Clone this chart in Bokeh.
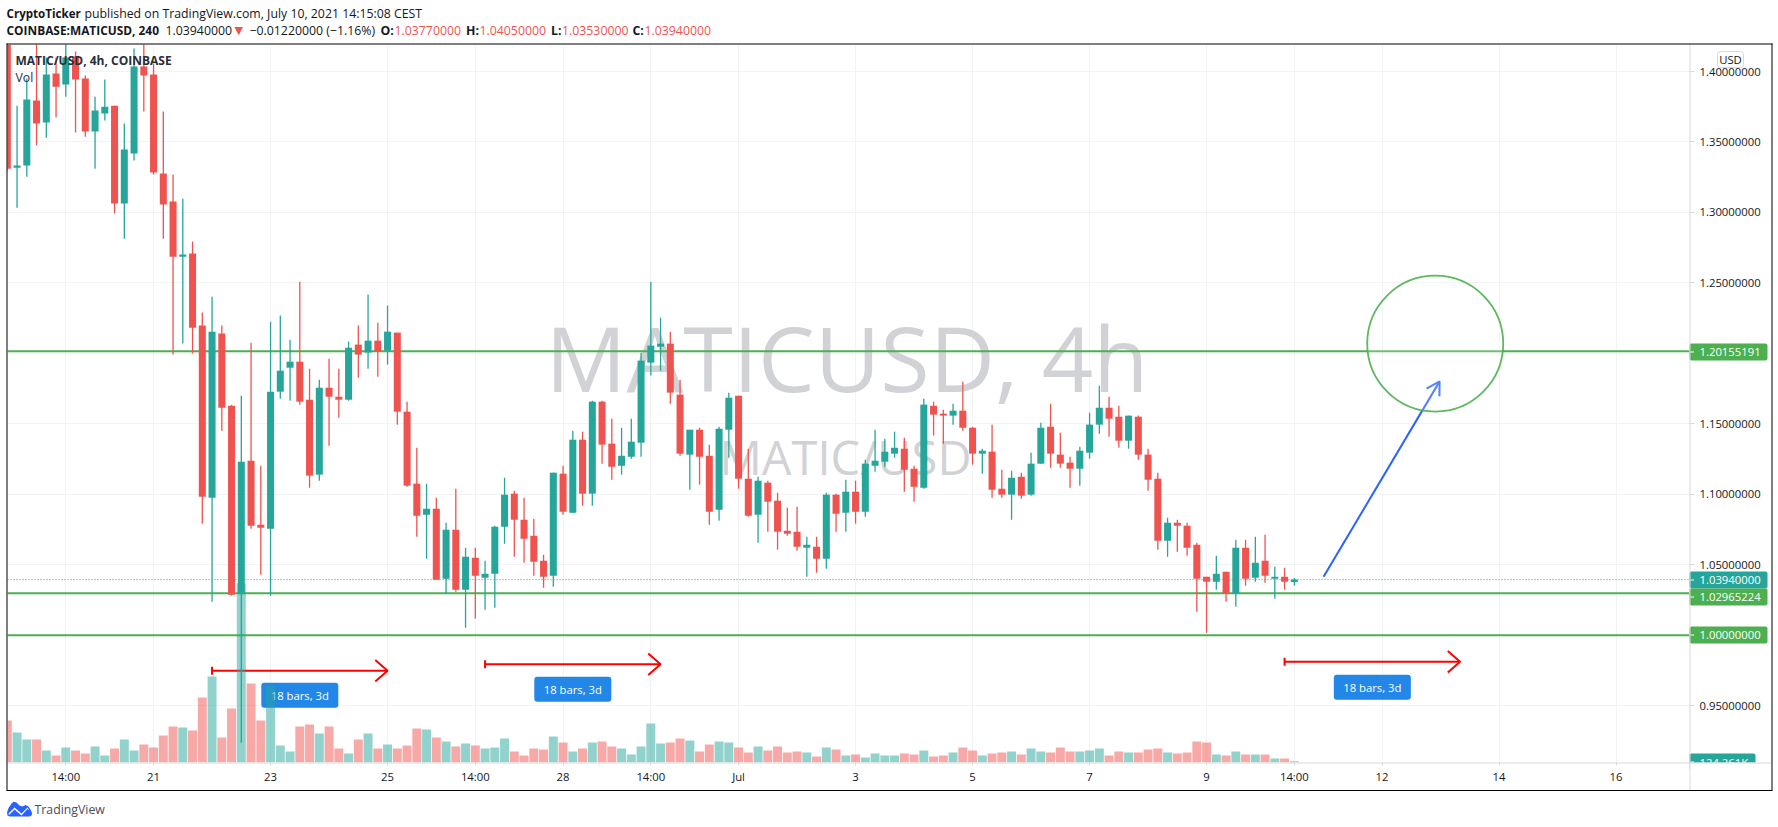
from bokeh.plotting import figure
from bokeh.models import Range1d, FixedTicker, Label, BoxAnnotation, Span, PolyAnnotation, NumeralTickFormatter
from bokeh.embed import file_html
from bokeh.resources import INLINE

opens = [1.44,1.3318,1.3333,1.3794,1.3638,1.3986,1.3908,1.4106,1.3950,1.3574,
 1.3702,1.3758,1.3063,1.3418,1.4035,1.3979,1.3276,1.3077,1.2686,1.2708,
 1.2197,1.0975,1.2140,1.1628,1.0294,1.1238,1.0784,1.0755,1.1728,1.1898,
 1.1941,1.1671,1.1139,1.1756,1.1692,1.1671,1.2062,1.2005,1.2090,1.2019,
 1.2147,1.1586,1.1075,1.0855,1.0897,1.0400,1.0748,1.0322,1.0549,1.0407,
 1.0436,1.0769,1.1004,1.0819,1.0705,1.0528,1.0422,1.1146,1.0869,1.1387,
 1.1004,1.1657,1.1359,1.1202,1.1266,1.1366,1.1934,1.2047,1.2069,1.1707,
 1.1281,1.1458,1.1273,1.0890,1.1458,1.1699,1.1110,1.0855,1.1082,1.0954,
 1.0741,1.0734,1.0620,1.0627,1.0542,1.0997,1.0869,1.1018,1.0876,1.1202,
 1.1231,1.1288,1.1323,1.1181,1.1046,1.1628,1.1572,1.1558,1.1593,1.1472,
 1.1288,1.1302,1.1039,1.0997,1.1124,1.0997,1.1217,1.1479,1.1281,1.1224,
 1.1181,1.1295,1.1494,1.1614,1.1550,1.1380,1.1550,1.1281,1.1110,1.0670,
 1.0798,1.0777,1.0642,1.0414,1.0379,1.0450,1.0294,1.0620,1.0407,1.0528,
 1.0400,1.0414,1.0377]
highs = [1.45,1.3758,1.3950,1.43,1.4099,1.4099,1.43,1.4142,1.3972,1.3822,
 1.3943,1.3758,1.3631,1.4163,1.43,1.4057,1.3716,1.3269,1.3098,1.2793,
 1.2289,1.2402,1.2197,1.1636,1.1699,1.2076,1.1202,1.2225,1.2268,1.2097,
 1.2509,1.1891,1.1813,1.1962,1.1891,1.2083,1.2197,1.2417,1.2218,1.2339,
 1.2147,1.1657,1.1330,1.1075,1.0975,1.0798,1.1039,1.0620,1.0620,1.0528,
 1.0776,1.1117,1.1025,1.0975,1.0826,1.0571,1.1153,1.1202,1.1451,1.1444,
 1.1664,1.1664,1.1536,1.1472,1.1536,1.2005,1.2509,1.2253,1.2154,1.1813,
 1.1458,1.1472,1.1352,1.1479,1.1721,1.1699,1.1323,1.1124,1.1096,1.1011,
 1.0904,1.0911,1.0698,1.0698,1.1011,1.1004,1.1103,1.1096,1.1245,1.1458,
 1.1394,1.1444,1.1401,1.1202,1.1678,1.1657,1.1600,1.1643,1.1799,1.1479,
 1.1323,1.1494,1.1174,1.1167,1.1153,1.1295,1.1508,1.1643,1.1437,1.1266,
 1.1337,1.1579,1.1770,1.1692,1.1628,1.1558,1.1558,1.1323,1.1153,1.0833,
 1.0819,1.0798,1.0656,1.0414,1.0564,1.0450,1.0677,1.0677,1.0698,1.0712,
 1.0485,1.0478,1.0405]
lows = [1.329,1.3034,1.3254,1.3475,1.3531,1.3673,1.3822,1.3567,1.3538,1.3311,
 1.3652,1.2992,1.2814,1.3368,1.3716,1.3269,1.2814,1.1991,1.2069,1.1998,
 1.0791,1.0237,1.1451,1.0280,0.9236,1.0755,1.0429,1.0280,1.1678,1.1664,
 1.1636,1.1046,1.1096,1.1345,1.1543,1.1664,1.1827,1.1891,1.1834,1.1920,
 1.1494,1.1053,1.0698,1.0542,1.0393,1.0294,1.0308,1.0052,1.0116,1.0180,
 1.0194,1.0649,1.0556,1.0514,1.0422,1.0336,1.0343,1.0855,1.0869,1.0918,
 1.0918,1.1217,1.1103,1.1139,1.1252,1.1266,1.1842,1.1877,1.1643,1.1273,
 1.1032,1.1068,1.0784,1.0812,1.1259,1.1039,1.0840,1.0656,1.0734,1.0606,
 1.0705,1.0599,1.0414,1.0443,1.0471,1.0734,1.0734,1.0791,1.0840,1.1160,
 1.1195,1.1259,1.1018,1.0947,1.1039,1.1416,1.1359,1.1494,1.1451,1.1210,
 1.1146,1.0975,1.0975,1.0819,1.0968,1.0990,1.1217,1.1188,1.1188,1.1046,
 1.1060,1.1252,1.1430,1.1408,1.1330,1.1323,1.1245,1.1025,1.0606,1.0556,
 1.0592,1.0564,1.0166,1.0017,1.0322,1.0237,1.0202,1.0351,1.0379,1.0372,
 1.0258,1.0322,1.0353]
closes = [1.3311,1.3333,1.3801,1.3631,1.3979,1.3893,1.4099,1.3943,1.3574,1.3723,
 1.3751,1.3063,1.3446,1.4035,1.3972,1.3283,1.3056,1.2686,1.2701,1.2182,
 1.0982,1.2154,1.1614,1.0287,1.1231,1.0777,1.0762,1.1728,1.1877,1.1941,
 1.1657,1.1132,1.1756,1.1692,1.1671,1.2040,1.1991,1.2090,1.2012,1.2154,
 1.1586,1.1061,1.0848,1.0897,1.0393,1.0748,1.0322,1.0556,1.0422,1.0436,
 1.0769,1.0997,1.0819,1.0684,1.0521,1.0414,1.1153,1.0876,1.1387,1.1004,
 1.1657,1.1352,1.1195,1.1273,1.1373,1.1948,1.2055,1.2069,1.1721,1.1288,
 1.1458,1.1266,1.0876,1.1465,1.1685,1.1110,1.0848,1.1096,1.0947,1.0734,
 1.0720,1.0627,1.0642,1.0542,1.0997,1.0862,1.1018,1.0876,1.1217,1.1238,
 1.1302,1.1330,1.1174,1.1053,1.1636,1.1565,1.1558,1.1593,1.1472,1.1288,
 1.1309,1.1032,1.0997,1.1117,1.0990,1.1217,1.1472,1.1288,1.1217,1.1181,
 1.1309,1.1494,1.1614,1.1536,1.1380,1.1558,1.1281,1.1103,1.0670,1.0798,
 1.0777,1.0620,1.0400,1.0379,1.0436,1.0294,1.0620,1.0400,1.0514,1.0422,
 1.0414,1.0379,1.0394]
volumes_m = [4.2,3.0,2.3,2.3,1.2,0.7,1.5,1.2,0.9,1.6,
 0.7,1.4,2.3,1.2,1.8,1.5,2.7,3.6,3.5,3.2,
 6.5,8.6,2.5,5.4,17.9,7.9,4.2,7.7,1.7,1.1,
 3.6,3.8,2.9,3.6,1.4,0.9,2.3,2.9,1.4,1.8,
 1.4,1.7,3.4,3.3,2.5,2.1,1.6,1.9,1.7,1.4,
 1.5,2.4,1.1,0.7,1.4,1.3,2.6,2.0,1.1,1.4,
 2.0,2.1,1.6,1.4,0.8,1.6,3.9,1.9,2.0,2.4,
 2.2,1.1,1.8,2.1,2.0,1.5,1.0,1.6,1.2,1.6,
 1.0,1.1,1.0,0.6,1.5,1.3,0.7,0.8,0.5,0.9,
 0.7,0.7,0.9,0.8,1.2,0.6,0.7,1.0,1.5,1.2,
 0.7,0.9,1.0,1.1,0.8,1.4,1.1,1.0,1.5,1.1,
 1.1,1.2,1.4,0.7,1.1,1.0,1.0,1.3,1.4,1.0,
 0.9,1.0,2.1,2.0,0.8,0.7,1.1,0.8,0.8,0.8,
 0.4,0.4,0.124]

time_ticks = [6,15,27,39,48,57,66,75,87,99,111,123,132,141,153,165]
time_labels = ["14:00","21","23","25","14:00","28","14:00","Jul","3","5","7","9","14:00","12","14","16"]
price_ticks = [1.40,1.35,1.30,1.25,1.20,1.15,1.10,1.05,1.00,0.95]
levels = [1.20155191,1.02965224,1.00000000]
last_price = 1.0394
measure_starts = [21,49,131]
measure_ends = [39,67,149]
measure_prices = [0.9747,0.9793,0.9811]
badge_tops = [0.9662,0.9705,0.9719]
badge_bottoms = [0.9484,0.9527,0.9541]
badge_text = ["18 bars, 3d"]*3
blue_start = (135,1.0414)
blue_end = (146.9,1.1801)
circle_center = (146.45,1.2069)

GREEN="#26a69a"; RED="#ef5350"; LINE="#4caf50"; BLUE="#2962ff"; BADGE="#2387e8"; INK="#131722"; AXIS="#d9d9d9"; GRID="#f2f3f5"
FONT="Open Sans"
W,H=1778,827
PXB=9.75; PXP=1409.0
AX=11.3; HD=12.3

p = figure(width=W,height=H,output_backend="svg",toolbar_location=None,
           x_range=Range1d(0.02,172.53),y_range=Range1d(0.9096,1.4192),
           y_axis_location="right",min_border_left=7,min_border_right=89,min_border_top=44,min_border_bottom=65,
           outline_line_color=None,background_fill_color="white",border_fill_color="white")
p.styles={"position":"absolute","left":"0px","top":"0px"}
p.extra_y_ranges={"vol":Range1d(0,71.8)}

p.xaxis.ticker=FixedTicker(ticks=time_ticks)
p.xaxis.major_label_overrides=dict(zip(time_ticks,time_labels))
p.yaxis.ticker=FixedTicker(ticks=price_ticks)
p.yaxis.formatter=NumeralTickFormatter(format="0.00000000")
for ax in (p.xaxis[0],p.yaxis[0]):
    ax.axis_line_color=None
    ax.major_tick_line_color=AXIS
    ax.major_tick_in=0
    ax.minor_tick_line_color=None
    ax.major_label_text_font=FONT
    ax.major_label_text_font_size=f"{AX}px"
    ax.major_label_text_color=INK
p.yaxis.major_tick_out=5
p.yaxis.major_label_standoff=5
p.xaxis.major_tick_out=3
p.xaxis.major_label_standoff=3
p.xgrid.ticker=FixedTicker(ticks=time_ticks)
p.ygrid.ticker=FixedTicker(ticks=price_ticks)
p.xgrid.grid_line_color=GRID
p.ygrid.grid_line_color=GRID

# overlay figure for everything that lies outside the plotting frame
q = figure(width=W,height=H,output_backend="svg",toolbar_location=None,
           x_range=Range1d(0,W),y_range=Range1d(H,0),x_axis_type=None,y_axis_type=None,
           min_border=0,min_border_left=0,min_border_right=0,min_border_top=0,min_border_bottom=0,
           outline_line_color=None,background_fill_color=None,border_fill_color=None)
q.styles={"position":"absolute","left":"0px","top":"0px","pointer-events":"none"}
q.xgrid.visible=False
q.ygrid.visible=False

def lab(text,x,y,size,color=INK,style="normal",align="left",level="annotation",font=FONT,fig=q):
    fig.add_layout(Label(x=x,y=y,x_units="canvas",y_units="canvas",text=text,text_font=font,
        text_font_size=f"{size}px",text_color=color,text_font_style=style,text_baseline="middle",
        text_align=align,level=level))
def box(l,t,r,b,color,level="annotation",radius=0,alpha=1.0,line=None):
    q.add_layout(BoxAnnotation(left=l,right=r,top=t,bottom=b,left_units="canvas",right_units="canvas",
        top_units="canvas",bottom_units="canvas",fill_color=color,fill_alpha=alpha,line_color=line,
        line_alpha=1.0,border_radius=radius,level=level,editable=False))

# watermarks
lab("MATICUSD, 4h",545,356,90,"#d1d2d6",level="underlay",fig=p)
lab("MATIC/USD",719,456,47,"#d1d2d6",level="underlay",fig=p)

# horizontal levels
for lv in levels:
    p.add_layout(Span(location=lv,dimension="width",line_color=LINE,line_width=2,level="underlay"))
p.add_layout(Span(location=last_price,dimension="width",line_color=GREEN,line_width=1,line_dash="1 2",level="underlay"))

# measure arrows
for s,e,y in zip(measure_starts,measure_ends,measure_prices):
    p.segment(x0=[s],x1=[e],y0=[y],y1=[y],line_color="#ff0000",line_width=2)
    p.segment(x0=[s],x1=[s],y0=[y-0.0028],y1=[y+0.0028],line_color="#ff0000",line_width=2)
    p.multi_line(xs=[[e-12.3/PXB,e,e-12.3/PXB]],ys=[[y+10.7/PXP,y,y-10.7/PXP]],line_color="#ff0000",line_width=2)

# badges
for s,e,t,b,txt in zip(measure_starts,measure_ends,badge_tops,badge_bottoms,badge_text):
    mid=(s+e)/2
    p.quad(left=[mid-3.95],right=[mid+3.95],top=[t],bottom=[b],fill_color=BADGE,line_color=None,border_radius=3)
    p.text(x=[mid],y=[(t+b)/2],text=[txt],text_color="white",text_font={"value":FONT},text_font_size=f"{AX}px",
           text_align="center",text_baseline="middle")

# volume
idx=list(range(len(closes)))
col=[GREEN if c>=o else RED for o,c in zip(opens,closes)]
p.vbar(x=idx,top=volumes_m,bottom=0,width=0.92,color=col,fill_alpha=0.5,line_alpha=0,y_range_name="vol")

# candles
p.segment(x0=idx,x1=idx,y0=lows,y1=highs,line_color=col,line_width=1.3)
p.vbar(x=idx,top=[max(o,c) for o,c in zip(opens,closes)],bottom=[min(o,c) for o,c in zip(opens,closes)],
       width=0.72,fill_color=col,line_color=None)

# blue arrow
bx0,by0=blue_start; bx1,by1=blue_end
p.segment(x0=[bx0],x1=[bx1],y0=[by0],y1=[by1],line_color=BLUE,line_width=2)
dx=(bx1-bx0)*PXB; dy=(by1-by0)*PXP; n=(dx*dx+dy*dy)**0.5; ux,uy=dx/n,dy/n
def pt(back,side):
    return bx1+(-ux*back-uy*side)/PXB, by1+(-uy*back+ux*side)/PXP
a=pt(13,7.5); c=pt(13,-7.5)
p.multi_line(xs=[[a[0],bx1,c[0]]],ys=[[a[1],by1,c[1]]],line_color=BLUE,line_width=2)

# target circle
p.ellipse(x=[circle_center[0]],y=[circle_center[1]],width=[136/PXB],height=[136/PXP],
          fill_color="white",fill_alpha=0.2,line_color=LINE,line_alpha=0.9,line_width=1.8)

# right-hand price tags
def tag(top,text,color,right=1767,bottom=None):
    b=bottom if bottom else top+17
    box(1689,top,right,b,color,radius=2)
    lab(text,1699,top+8.7,AX,"white")
    box(1690,top+8,1693.5,top+9,"white")
tag(343,"1.20155191",LINE)
tag(571,"1.03940000",GREEN)
tag(588,"1.02965224",LINE)
tag(626,"1.00000000",LINE)
tag(753,"124.261K",GREEN,right=1755)
box(1689,762,1771,789,"white")
# USD tag
box(1717,51,1743,67,"white",radius=3,alpha=0.75,line="#d6d8dd")
lab("USD",1730,59,AX,INK,align="center")

# frame lines
box(7,762,1771,763,AXIS)
box(1689,44,1690,790,AXIS)
box(6,43,1772,44,"black")
box(6,789.5,1772,790.5,"black")
box(6,43,7,790,"black")
box(1771,43,1772,790,"black")

# legend inside pane
lab("MATIC/USD, 4h, COINBASE",15,60,12,"#2a2e39",style="bold")
lab("Vol",15,77,HD,"#2a2e39")

# header
lab("CryptoTicker",6,12.5,11.6,INK,style="bold")
lab("published on TradingView.com, July 10, 2021 14:15:08 CEST",84,12.5,HD,INK)
lab("COINBASE:MATICUSD, 240",6,29.5,11.9,INK,style="bold")
lab("1.03940000",165,29.5,HD,INK)
lab("\u25BC",234,29.5,11,RED,font="DejaVu Sans")
lab("\u22120.01220000 (\u22121.16%)",249,29.5,HD,INK)
lab("O:",380,29.5,HD,INK,style="bold")
lab("1.03770000",394,29.5,HD,RED)
lab("H:",465.5,29.5,HD,INK,style="bold")
lab("1.04050000",479,29.5,HD,RED)
lab("L:",550.5,29.5,HD,INK,style="bold")
lab("1.03530000",561.5,29.5,HD,RED)
lab("C:",632,29.5,HD,INK,style="bold")
lab("1.03940000",644,29.5,HD,RED)

# footer logo
q.add_layout(PolyAnnotation(xs=[6.5,8,11,13,16,19,22,25,28,30,31.7,31,29,9,7],
    ys=[812,807.5,803,801.3,802,805,806,804.5,806,809,813,815,816,816,815],
    xs_units="canvas",ys_units="canvas",fill_color=BLUE,fill_alpha=1,line_color=None,editable=False))
q.add_layout(PolyAnnotation(xs=[8,14,21,27,29,27,21,14,8.5],ys=[813,807,813,807,810,808.6,815,809,814.5],
    xs_units="canvas",ys_units="canvas",fill_color="white",fill_alpha=1,line_color=None,editable=False))
lab("TradingView",34,808.5,HD,"#4a4e59")

open("out.html","w").write(file_html([p,q],INLINE))
